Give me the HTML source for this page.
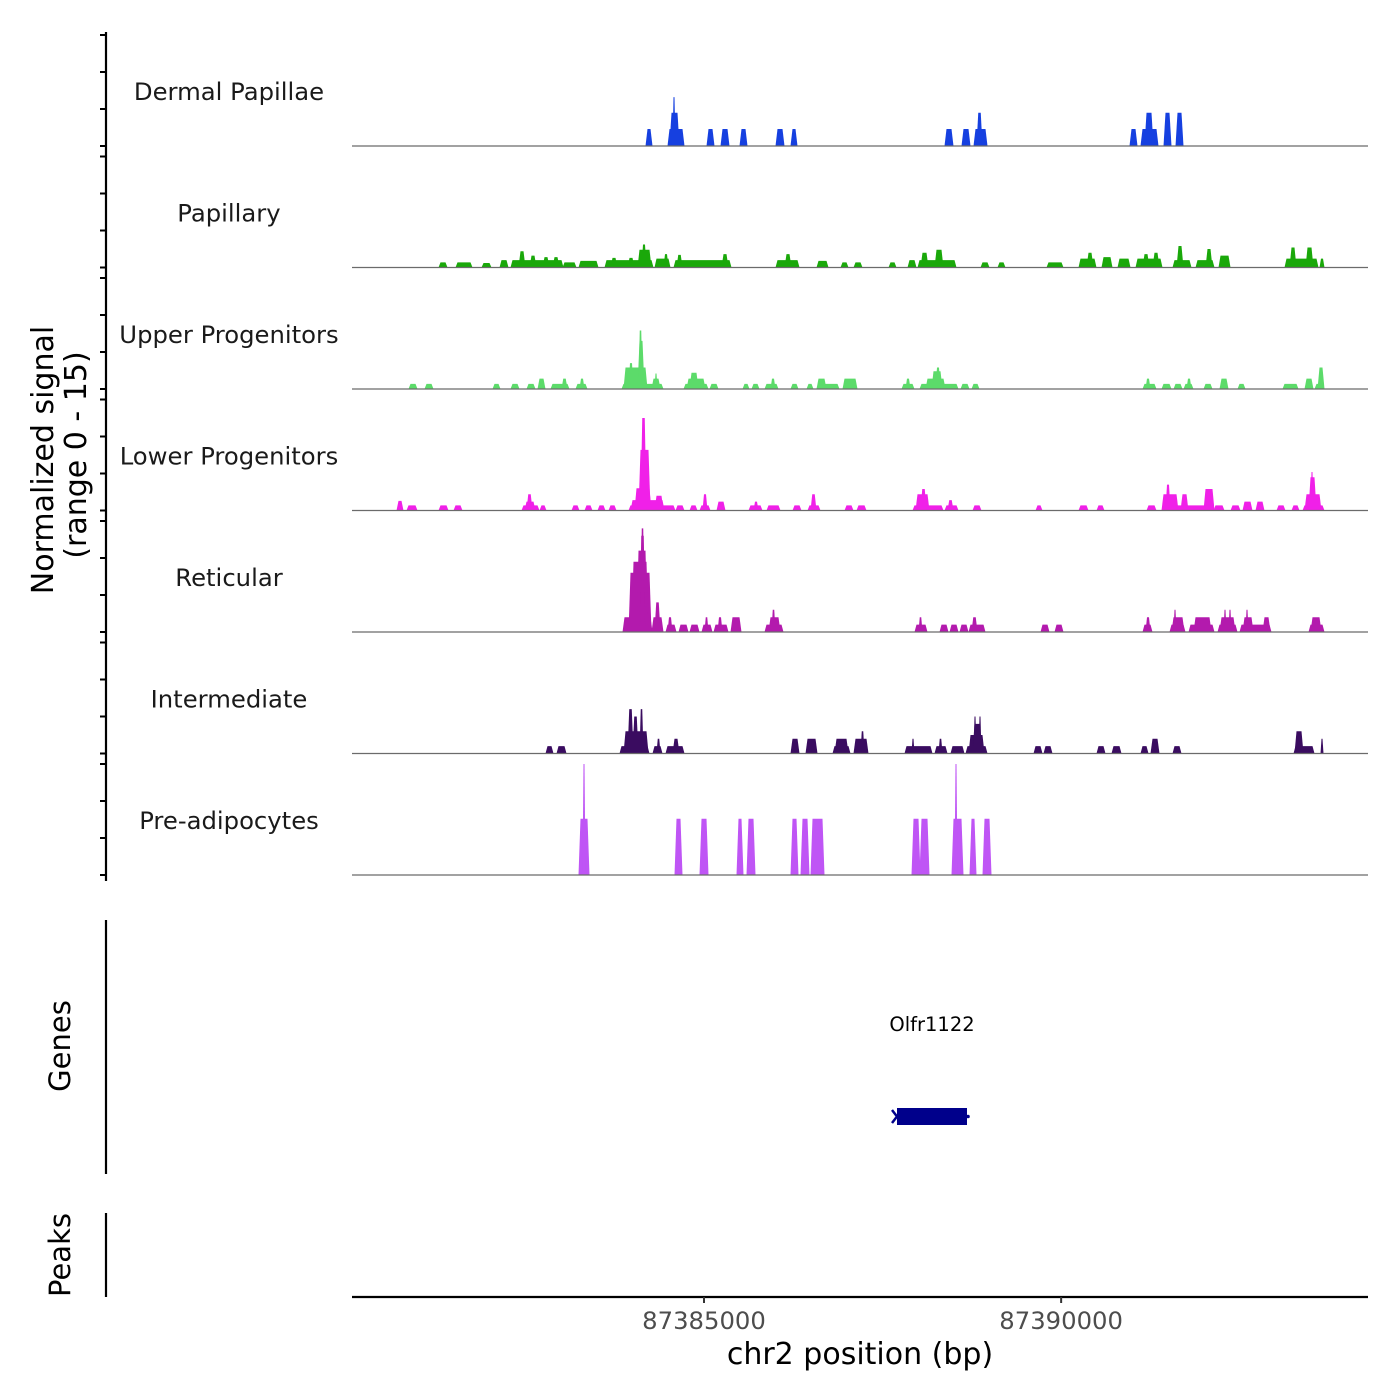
<!DOCTYPE html>
<html><head><meta charset="utf-8">
<style>
html,body{margin:0;padding:0;background:#fff;}
svg{display:block;font-family:"DejaVu Sans","Liberation Sans",sans-serif;}
</style></head>
<body>
<svg id="chart" width="1400" height="1400" viewBox="0 0 1400 1400" xmlns="http://www.w3.org/2000/svg">
  <rect x="0" y="0" width="1400" height="1400" fill="#fff"/>
  <g id="tracks"></g>
  <line x1="106" y1="32" x2="106" y2="881" stroke="#000" stroke-width="2.2"/>
  <g id="yticks"></g>
  <text transform="translate(53,460) rotate(-90)" text-anchor="middle" font-size="30" fill="#000">Normalized signal</text>
  <text transform="translate(86,455) rotate(-90)" text-anchor="middle" font-size="30" fill="#000">(range 0 - 15)</text>
  <line x1="106" y1="920" x2="106" y2="1174" stroke="#000" stroke-width="2.2"/>
  <text transform="translate(70,1046) rotate(-90)" text-anchor="middle" font-size="29" fill="#000">Genes</text>
  <line x1="106" y1="1213" x2="106" y2="1297" stroke="#000" stroke-width="2.2"/>
  <text transform="translate(70,1255) rotate(-90)" text-anchor="middle" font-size="29" fill="#000">Peaks</text>
  <g id="genes"></g>
  <line x1="352" y1="1297" x2="1368" y2="1297" stroke="#000" stroke-width="2.2"/>
  <g id="xticks"></g>
  <text x="860" y="1364" text-anchor="middle" font-size="30" fill="#000">chr2 position (bp)</text>
</svg>
<script>
// Positions are bp offsets from chr2:87380000; values are normalized signal (0-15)
const regionStart = 87380000;
const xDomain = [72, 14296];
const xTickValues = [87385000, 87390000];
const trackNames = ["Dermal Papillae","Papillary","Upper Progenitors","Lower Progenitors","Reticular","Intermediate","Pre-adipocytes"];
const trackColors = ["#1640e0","#1aa80a","#5cdb6a","#f020e8","#b31aad","#3a0c60","#bf55f5"];

const dpStart=[4188,4496,4524,4566,5042,5238,5504,6008,6218,8374,8612,8780,8822,10964,11118,11174,11440,11608];
const dpEnd  =[4272,4720,4650,4594,5140,5350,5602,6120,6302,8486,8724,8962,8892,11062,11356,11286,11538,11706];
const dpVal  =[2.3,2.3,4.5,6.6,2.3,2.3,2.3,2.3,2.3,2.3,2.3,2.3,4.5,2.3,2.3,4.5,4.5,4.5];

const paStart=[1290,1528,1892,2144,2298,2410,2564,2746,2886,3026,3250,3614,3698,3936,4076,4132,4314,4440,4580,4622,5252,6008,6134,6582,6918,7100,7590,7856,7996,8038,8234,8878,9116,9802,10250,10362,10572,10796,11048,11146,11286,11566,11622,11888,12028,12210,13134,13204,13428,13624];
const paEnd  =[1402,1752,2018,2256,3026,2494,2648,2830,2970,3208,3516,4286,3782,4020,4258,4188,4524,4496,5378,4692,5336,6330,6218,6736,7016,7212,7688,7968,8528,8136,8346,8990,9214,10026,10488,10446,10712,10964,11412,11230,11370,11818,11706,12140,12112,12364,13596,13288,13526,13680];
const paVal  =[0.7,0.7,0.6,1.0,1.0,2.2,1.6,1.4,1.4,0.7,0.9,1.0,1.3,1.3,2.4,3.1,1.2,1.8,1.0,1.7,1.8,1.0,1.8,0.9,0.7,0.7,0.7,1.0,1.0,2.0,2.4,0.7,0.7,0.7,1.2,2.0,1.4,1.2,1.2,1.8,2.0,1.0,2.9,1.0,2.5,1.6,1.2,2.7,2.7,1.2];

const upStart=[870,1094,2046,2298,2522,2676,2858,3012,3208,3264,3852,3880,3950,4076,4090,4272,4314,4720,4762,4804,5084,5546,5672,5854,5938,6218,6442,6582,6582,6946,7772,7828,8024,8108,8192,8248,8598,8752,11146,11188,11412,11580,11720,11762,12000,12224,12476,13106,13414,13554,13596];
const upEnd  =[982,1206,2144,2410,2634,2774,3110,3082,3362,3320,4426,4202,4006,4160,4132,4384,4342,5056,5014,4916,5196,5630,5770,6036,5994,6316,6526,6890,6708,7142,7940,7884,8556,8374,8332,8304,8710,8850,11328,11244,11538,11692,11846,11818,12112,12336,12574,13316,13526,13680,13680];
const upVal  =[0.7,0.7,0.7,0.7,0.7,1.4,0.7,1.4,0.7,1.4,0.7,2.9,3.5,6.5,7.9,1.4,2.1,0.7,1.4,2.2,0.7,0.7,0.7,0.7,1.4,0.7,0.7,0.7,1.4,1.4,0.7,1.4,0.7,1.4,2.4,2.9,0.7,0.7,0.7,1.4,0.7,0.7,0.7,1.4,0.7,1.4,0.7,0.7,1.4,0.7,2.9];

const lpStart=[702,842,1290,1500,2452,2494,2522,2704,3152,3334,3516,3670,3950,3978,4034,4090,4118,4314,4608,4804,4944,4986,5182,5630,5700,5882,6246,6456,6498,6974,7142,7926,7968,8038,8374,8416,8766,9648,10250,10502,11202,11412,11412,11468,11678,12000,12140,12378,12546,12728,13022,13232,13386,13414,13470,13498];
const lpEnd  =[786,982,1416,1612,2690,2634,2592,2788,3250,3432,3614,3768,4594,4440,4258,4244,4188,4426,4720,4902,5084,5042,5294,5812,5756,6064,6358,6624,6568,7086,7268,8346,8150,8108,8556,8486,8878,9732,10376,10600,11328,12140,11636,11524,11776,12140,12280,12504,12672,12840,13134,13330,13680,13638,13568,13526];
const lpVal  =[1.3,0.7,0.7,0.7,0.7,1.2,2.2,0.7,0.7,0.7,0.7,0.7,0.7,1.4,3.0,8.2,12.5,2.0,0.7,0.7,0.7,2.2,1.2,0.7,1.2,0.7,0.7,0.7,2.2,0.7,0.7,0.7,2.2,2.9,0.7,1.4,0.7,0.7,0.7,0.7,0.7,0.7,2.2,3.5,2.2,2.9,0.7,0.7,1.2,1.2,0.7,0.7,0.7,2.2,4.5,5.2];

const reStart=[3866,3950,3992,4062,4104,4118,4272,4314,4468,4496,4650,4804,4972,5014,5140,5196,5378,5854,5910,5952,7954,8010,8304,8444,8584,8710,8752,9718,9914,11146,11188,11524,11552,11580,11790,11860,12196,12224,12280,12350,12504,12546,12588,12826,13470,13498];
const reEnd  =[4272,4258,4216,4202,4174,4160,4426,4384,4608,4552,4776,4930,5112,5056,5336,5252,5518,6106,6064,5994,8122,8052,8416,8556,8696,8934,8822,9830,10026,11272,11244,11734,11720,11608,12140,12098,12462,12434,12308,12378,12938,12686,12616,12924,13680,13638];
const reVal  =[2.0,8.0,9.5,11,13,14,2.0,4.0,1.0,2.0,1.0,1.0,1.0,2.0,1.0,2.0,2.0,1.0,2.0,3.0,1.0,2.0,1.0,1.0,1.0,1.0,2.0,1.0,1.0,1.0,2.0,1.0,2.0,3.0,1.0,2.0,1.0,2.0,3.0,3.0,1.0,2.0,3.0,2.0,1.0,2.0];

const imStart=[2788,2942,3824,3880,3936,4006,4104,4286,4342,4468,4566,6218,6428,6806,6834,7100,7198,7814,7912,8234,8290,8458,8668,8710,8766,8780,8850,9620,9760,10502,10712,11118,11258,11566,13260,13274,13638];
const imEnd  =[2886,3068,4230,4216,4006,4076,4146,4412,4384,4720,4650,6330,6582,7044,7016,7296,7240,8192,7940,8402,8332,8640,8962,8920,8878,8808,8878,9732,9872,10614,10838,11216,11370,11678,13540,13386,13666];
const imVal  =[1.0,1.0,1.0,3.0,6.0,5.0,6.0,1.0,2.0,1.0,2.0,2.0,2.0,1.0,2.0,2.0,3.0,1.0,2.0,1.0,2.0,1.0,1.0,2.5,4.0,5.0,5.0,1.0,1.0,1.0,1.0,1.0,2.0,1.0,1.0,3.0,2.0];

const paStartPre=[3250,3306,4594,4944,5462,5602,6218,6358,6498,7912,8024,8472,8514,8724,8906];
const paEndPre  =[3390,3334,4692,5056,5546,5714,6316,6470,6680,8024,8150,8626,8542,8808,9018];
const paValPre  =[7.6,15,7.6,7.6,7.6,7.6,7.6,7.6,7.6,7.6,7.6,7.6,15,7.6,7.6];

const geneNames=["Olfr1122"];
const geneStart=[7702];
const geneEnd=[8682];

const trackStarts=[dpStart,paStart,upStart,lpStart,reStart,imStart,paStartPre];
const trackEnds=[dpEnd,paEnd,upEnd,lpEnd,reEnd,imEnd,paEndPre];
const trackVals=[dpVal,paVal,upVal,lpVal,reVal,imVal,paValPre];

const NS="http://www.w3.org/2000/svg";
const X0=352,X1=1368;
function xScale(off){return X0+(off-xDomain[0])/(xDomain[1]-xDomain[0])*(X1-X0);}
const baseTop=146, trackStep=121.5, signalMax=15, signalPx=111;
function yScale(v,ti){return baseTop+ti*trackStep - v/signalMax*signalPx;}
function mk(tag,attrs,parent){const e=document.createElementNS(NS,tag);for(const k in attrs)e.setAttribute(k,attrs[k]);parent.appendChild(e);return e;}

const tracksG=document.getElementById('tracks');
const ytG=document.getElementById('yticks');
for(let t=0;t<trackNames.length;t++){
  const b=baseTop+t*trackStep;
  const g=mk('g',{},tracksG);
  
  
  const lab=mk('text',{x:229,y:b-46,'text-anchor':'middle','font-size':'24.3',fill:'#1a1a1a'},g);
  
  
  lab.textContent=trackNames[t];
  const s=trackStarts[t],e=trackEnds[t],v=trackVals[t];
  for(let i=0;i<s.length;i++){
    const x0=xScale(s[i]),x1=xScale(e[i]);
    const sl=Math.min(1.5,(x1-x0)/4);
    const y=yScale(v[i],t);
    const p=mk('polygon',{points:`${x0-0.5},${b} ${x0+sl},${y} ${x1-sl},${y} ${x1+0.5},${b}`,fill:trackColors[t]},g);
    
    
  }
  const bl=mk('line',{x1:X0,x2:X1,y1:b,y2:b,stroke:'#6b6b6b','stroke-width':'1.2'},g);
  
  
  for(let k=0;k<=3;k++){
    const ty=b-k*37;
    const tk=mk('line',{x1:100,x2:106,y1:ty,y2:ty,stroke:'#000','stroke-width':'2'},ytG);
    
    
  }
}

const gg=document.getElementById('genes');
for(let i=0;i<geneNames.length;i++){
  const x0=xScale(geneStart[i]),x1=xScale(geneEnd[i]);
  const r=mk('rect',{x:x0,y:1108,width:x1-x0,height:17,fill:'#00008b'},gg);
  
  
  const a=mk('path',{d:`M${x0-5},${1110} L${x0},${1116.5} L${x0-5},${1123}`,stroke:'#00008b','stroke-width':'2.5',fill:'none'},gg);
  
  
  const d=mk('circle',{cx:x1+1,cy:1116.5,r:1.8,fill:'#00008b'},gg);
  
  
  const tx=mk('text',{x:(x0+x1)/2,y:1031,'text-anchor':'middle','font-size':'19.5',fill:'#000'},gg);
  
  
  tx.textContent=geneNames[i];
}

const xt=document.getElementById('xticks');
for(const v of xTickValues){
  const x=xScale(v-regionStart);
  const l=mk('line',{x1:x,x2:x,y1:1297,y2:1303,stroke:'#333','stroke-width':'2'},xt);
  
  
  const t=mk('text',{x:x,y:1329,'text-anchor':'middle','font-size':'24.3',fill:'#4d4d4d'},xt);
  
  
  t.textContent=String(v);
}
</script>
</body></html>
